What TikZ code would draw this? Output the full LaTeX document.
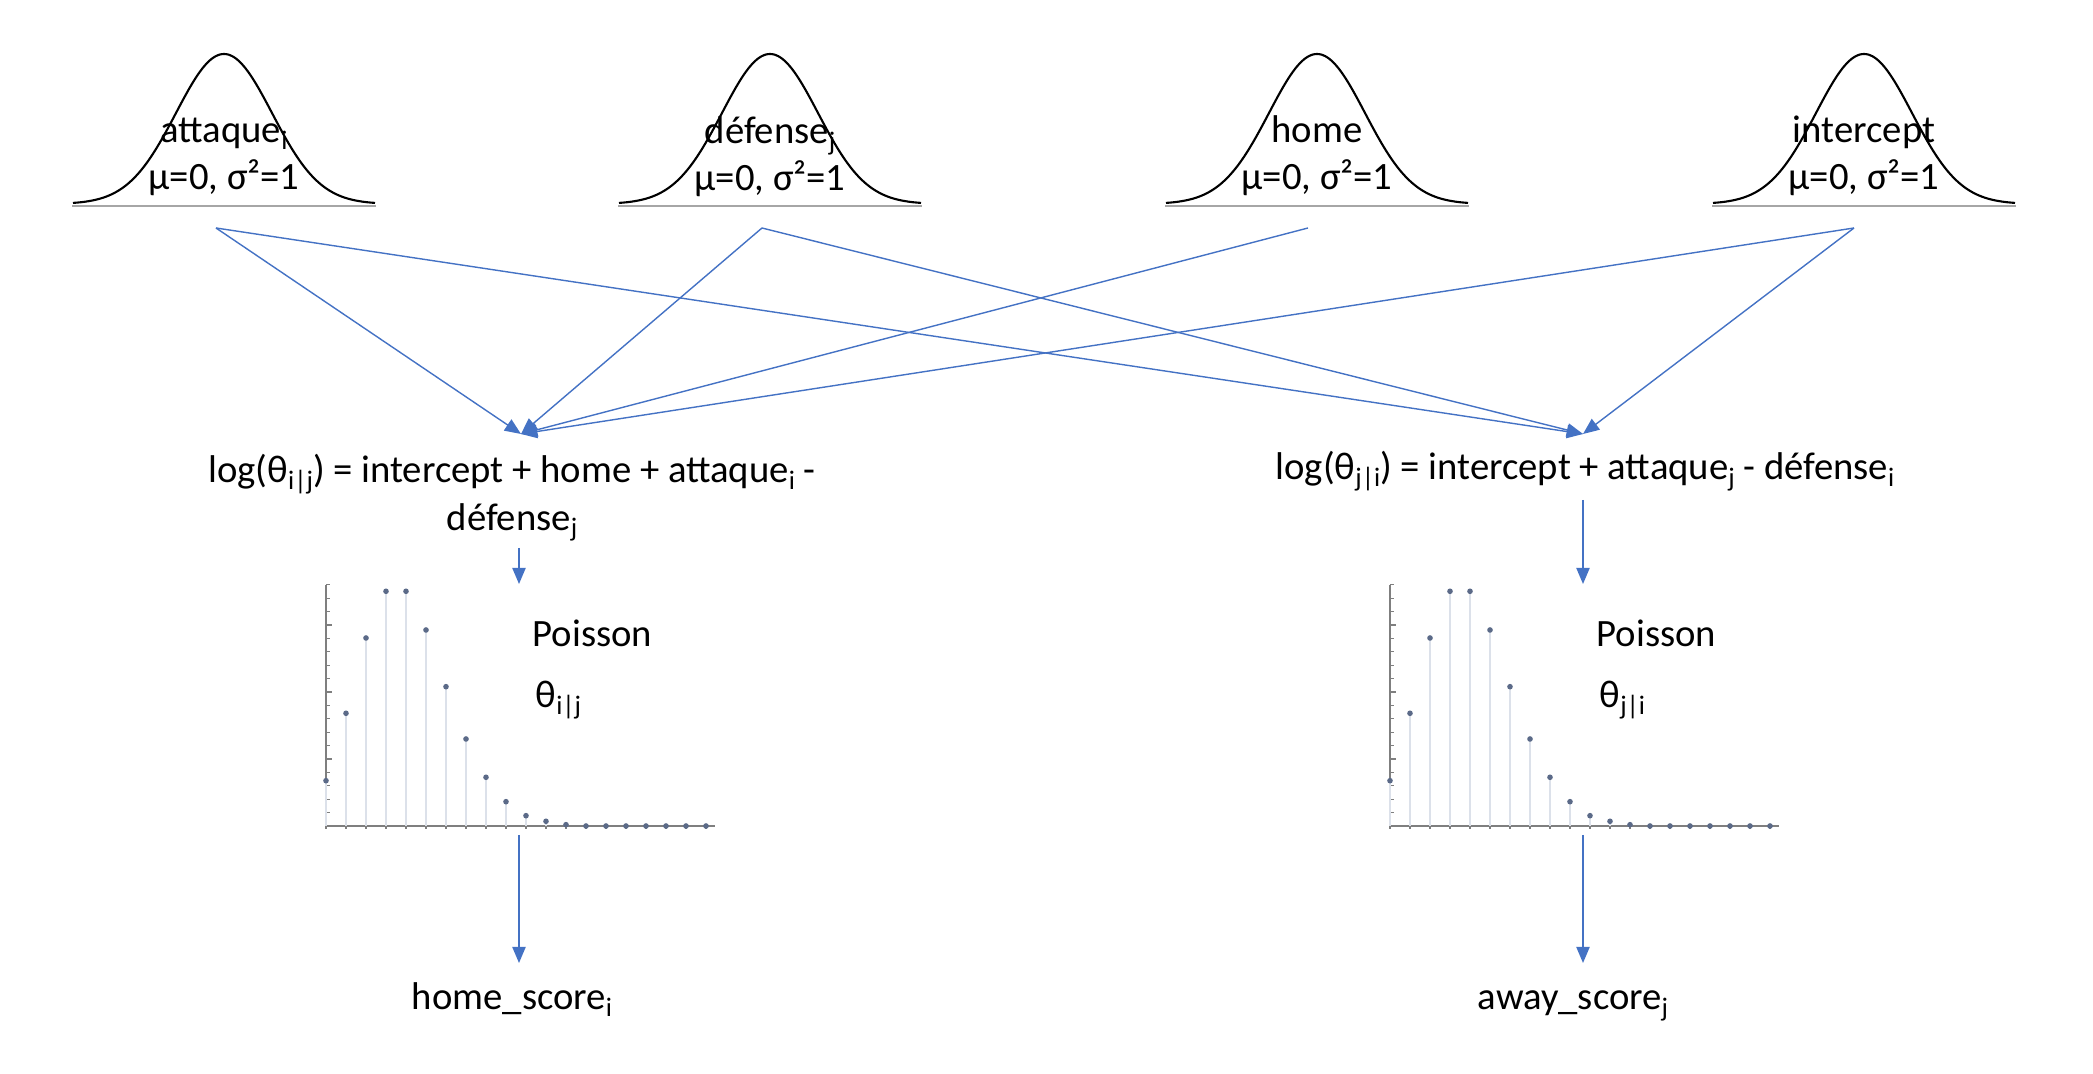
\documentclass[tikz,border=0pt]{standalone}
\usepackage{fontspec}
\setmainfont{Carlito}
\usetikzlibrary{arrows.meta}
\definecolor{arrowblue}{HTML}{4472C4}
\definecolor{stemgray}{HTML}{DCE1EA}
\definecolor{dotblue}{HTML}{5B6A88}
\definecolor{axisgray}{HTML}{7F7F7F}
\newcommand{\lowsub}[1]{\raisebox{-1.9pt}{\fontsize{7.6}{8}\selectfont #1}}
\tikzset{
  lbl/.style={font=\fontsize{11}{13.4}\selectfont, inner sep=0pt, align=center},
  link/.style={arrowblue, line width=0.4pt, -{Triangle[length=4.6pt,width=3.8pt]}},
  bell/.style={line width=0.6pt},
  stem/.style={stemgray, line width=0.5pt},
}
\begin{document}
\begin{tikzpicture}
    [x=0.01cm, y=-0.01cm]
    \useasboundingbox (0,0) rectangle (2093,1074);
    % priors
    \foreach \c in {224,770,1317,1864} {
      \draw [gray!70, line width=0.4pt] (\c-152,206) -- (\c+152,206);
      \draw [bell] plot [domain=-151:151, samples=71, smooth] ({\c+\x},{204-150*exp(-0.5*(\x/48)^2)});
    }
    \node (attaque) at (224,157) [lbl] {attaque\lowsub{i}\\μ=0, σ²=1};
    \node (defense) at (770,157) [lbl] {défense\lowsub{j}\\μ=0, σ²=1};
    \node (home) at (1317,156) [lbl] {home\\μ=0, σ²=1};
    \node (intercept) at (1864,156) [lbl] {intercept\\μ=0, σ²=1};
    \coordinate (attaque-out) at (216,228);
    \coordinate (defense-out) at (762,228);
    \coordinate (home-out) at (1308,228);
    \coordinate (intercept-out) at (1854,228);
    % linear predictors
    \coordinate (loghome-in) at (521,434);
    \coordinate (logaway-in) at (1583,434);
    \node (loghome) at (512,498) [lbl] {log(θ\lowsub{i|j}) = intercept + home + attaque\lowsub{i} -\\défense\lowsub{j}};
    \node (logaway) at (1585,480) [lbl, anchor=base] {log(θ\lowsub{j|i}) = intercept + attaque\lowsub{j} - défense\lowsub{i}};
    \draw [link] (attaque-out) to (loghome-in);
    \draw [link] (defense-out) to (loghome-in);
    \draw [link] (home-out) to (loghome-in);
    \draw [link] (intercept-out) to (loghome-in);
    \draw [link] (attaque-out) to (logaway-in);
    \draw [link] (defense-out) to (logaway-in);
    \draw [link] (intercept-out) to (logaway-in);
    % poisson plots
    \foreach \dx in {0,1064} {
      \draw [axisgray, line width=0.4pt] (326+\dx,585) -- (326+\dx,826) -- (715+\dx,826);
      \foreach \k in {1,...,18}
        \draw [axisgray, line width=0.3pt] (326+\dx,826-13.4*\k) -- ++(4,0);
      \foreach \k in {5,10,15}
        \draw [axisgray, line width=0.3pt] (326+\dx,826-13.4*\k) -- ++(6,0);
      \foreach \k/\h in {0/45.3,1/112.7,2/188,3/234.7,4/234.7,5/196,6/139.3,7/87,8/48.7,9/24.3,10/10.3,11/4.7,12/1.3,13/0,14/0,15/0,16/0,17/0,18/0,19/0} {
        \draw [axisgray, line width=0.3pt] (326+20*\k+\dx,824) -- (326+20*\k+\dx,829);
        \draw [stem] (326+20*\k+\dx,826) -- (326+20*\k+\dx,826-\h);
        \fill [dotblue] (326+20*\k+\dx,826-\h) circle [radius=0.8pt];
      }
    }
    \node (poishome) at (532,647) [lbl, anchor=base west] {Poisson};
    \node (thetahome) at (535,708) [lbl, anchor=base west] {θ\lowsub{i|j}};
    \node (poisaway) at (1596,647) [lbl, anchor=base west] {Poisson};
    \node (thetaaway) at (1599,708) [lbl, anchor=base west] {θ\lowsub{j|i}};
    \coordinate (loghome-out) at (519,548);
    \coordinate (plothome-in) at (519,584);
    \coordinate (plothome-out) at (519,835);
    \coordinate (logaway-out) at (1583,500);
    \coordinate (plotaway-in) at (1583,584);
    \coordinate (plotaway-out) at (1583,835);
    \draw [link] (loghome-out) to (plothome-in);
    \draw [link] (logaway-out) to (plotaway-in);
    % scores
    \coordinate (homescore-in) at (519,963);
    \coordinate (awayscore-in) at (1583,963);
    \node (homescore) at (512,1010) [lbl, anchor=base] {home\_score\lowsub{i}};
    \node (awayscore) at (1573,1010) [lbl, anchor=base] {away\_score\lowsub{j}};
    \draw [link] (plothome-out) to (homescore-in);
    \draw [link] (plotaway-out) to (awayscore-in);
  \end{tikzpicture}
\end{document}
